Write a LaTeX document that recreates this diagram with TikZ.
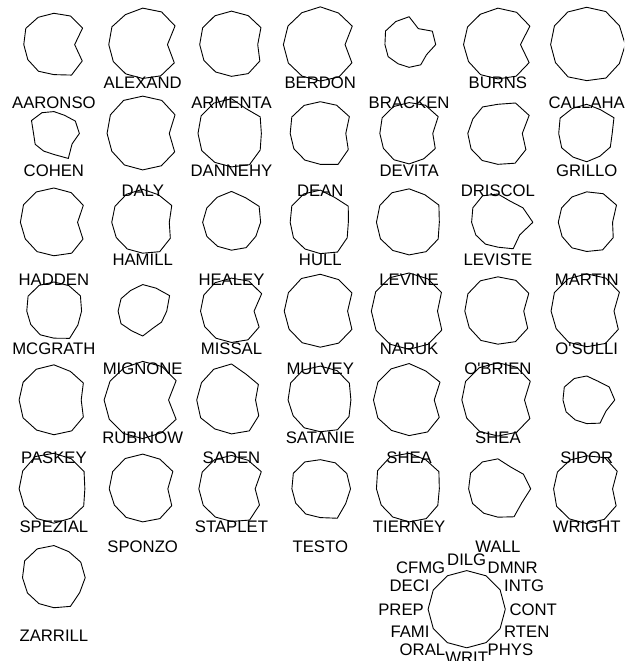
\documentclass[tikz,border=0pt]{standalone}
\usepackage{fontspec}
\setmainfont{Liberation Sans}
\usetikzlibrary{calc}

\def\colmax{{10.6,9.2,9.0,9.0,8.7,8.8,9.1,9.1,8.9,9.0,9.1,9.2}}

\begin{document}
\begin{tikzpicture}[x=1pt,y=1pt,
        starline/.style={
        draw=black, line width=0.9pt,
        line join=round},
        judgename/.style={
        inner sep=0pt, anchor=base,
        font=\fontsize{16.7}{20}\selectfont},
        keylab/.style={
        inner sep=0pt,
        font=\fontsize{16.7}{20}\selectfont},
        ]

        \path[use as bounding box, fill=white] (0,0) rectangle (624,-661);
        \clip (0,0) rectangle (624,-661);

        \foreach \nm/\lab/\vals [count=\i] in {
            aaronso/AARONSO/{5.7,7.9,7.7,7.3,7.1,7.4,7.1,7.1,7.1,7.0,8.3,7.8},
            alexand/ALEXAND/{6.8,8.9,8.8,8.5,7.8,8.1,8.0,8.0,7.8,7.9,8.5,8.7},
            armenta/ARMENTA/{7.2,8.1,7.8,7.8,7.5,7.6,7.5,7.5,7.3,7.4,7.9,7.8},
            berdon/BERDON/{6.8,8.8,8.5,8.8,8.3,8.5,8.7,8.7,8.4,8.5,8.8,8.7},
            bracken/BRACKEN/{7.3,6.4,4.3,6.5,6.0,6.2,5.7,5.7,5.1,5.3,5.5,4.8},
            burns/BURNS/{6.2,8.8,8.7,8.5,7.9,8.0,8.1,8.0,8.0,8.0,8.6,8.6},
            callaha/CALLAHA/{10.6,9.0,8.9,8.7,8.5,8.5,8.5,8.5,8.6,8.4,9.1,9.0},
            cohen/COHEN/{7.0,5.9,4.9,5.1,5.4,5.9,4.8,5.1,4.7,4.9,6.8,5.0},
            daly/DALY/{7.3,8.9,8.9,8.7,8.6,8.5,8.4,8.4,8.4,8.5,8.8,8.8},
            dannehy/DANNEHY/{8.2,7.9,6.7,8.1,7.9,8.0,7.9,8.1,7.7,7.8,8.5,7.9},
            dean/DEAN/{7.0,8.0,7.6,7.4,7.3,7.5,7.1,7.2,7.1,7.2,8.4,7.7},
            devita/DEVITA/{6.5,8.0,7.6,7.2,7.0,7.1,6.9,7.0,7.0,7.1,6.9,7.2},
            driscol/DRISCOL/{6.7,8.6,8.2,6.8,6.9,6.6,7.1,7.3,7.2,7.2,8.1,7.7},
            grillo/GRILLO/{7.0,7.5,6.4,6.8,6.5,7.0,6.6,6.8,6.3,6.6,6.2,6.5},
            hadden/HADDEN/{6.5,8.1,8.0,8.0,7.9,8.0,7.9,7.8,7.8,7.8,8.4,8.0},
            hamill/HAMILL/{7.3,8.0,7.4,7.7,7.3,7.3,7.3,7.2,7.1,7.2,8.0,7.6},
            healey/HEALEY/{8.0,7.6,6.6,7.2,6.5,6.5,6.8,6.7,6.4,6.5,6.9,6.7},
            hull/HULL/{7.7,7.7,6.7,7.5,7.4,7.5,7.1,7.3,7.1,7.3,8.1,7.4},
            levine/LEVINE/{8.3,8.2,7.4,7.8,7.7,7.7,7.7,7.8,7.5,7.6,8.0,8.0},
            leviste/LEVISTE/{9.6,6.9,5.7,6.6,6.9,6.6,6.2,6.0,5.8,5.8,7.2,6.0},
            martin/MARTIN/{7.1,8.2,7.7,7.1,6.6,6.6,6.7,6.7,6.8,6.8,7.5,7.3},
            mcgrath/MCGRATH/{7.6,7.3,6.9,6.8,6.7,6.8,6.4,6.3,6.3,6.3,7.4,6.6},
            mignone/MIGNONE/{6.6,7.4,6.2,6.2,5.4,5.7,5.8,5.9,5.2,5.8,4.7,5.2},
            missal/MISSAL/{6.2,8.3,8.1,7.7,7.4,7.3,7.3,7.3,7.2,7.3,7.8,7.6},
            mulvey/MULVEY/{7.5,8.7,8.5,8.6,8.5,8.4,8.5,8.5,8.4,8.4,8.7,8.7},
            naruk/NARUK/{7.8,8.9,8.7,8.9,8.7,8.8,8.9,9.0,8.8,8.9,9.0,9.0},
            obrien/O\textquotesingle BRIEN/{7.1,8.5,8.3,8.0,7.9,7.9,7.8,7.8,7.8,7.7,8.3,8.2},
            osulli/O\textquotesingle SULLI/{7.5,9.0,8.9,8.7,8.4,8.5,8.4,8.3,8.3,8.3,8.8,8.7},
            paskey/PASKEY/{7.5,8.1,7.7,8.2,8.0,8.1,8.2,8.4,8.0,8.1,8.4,8.1},
            rubinow/RUBINOW/{7.1,9.2,9.0,9.0,8.4,8.6,9.1,9.1,8.9,9.0,8.9,9.2},
            saden/SADEN/{6.6,7.4,6.9,8.4,8.0,7.9,8.2,8.4,7.7,7.9,8.4,7.5},
            satanie/SATANIE/{8.4,8.0,7.9,7.9,7.8,7.8,7.6,7.4,7.4,7.4,8.1,7.9},
            sheaa/SHEA/{6.9,8.5,7.8,8.5,8.1,8.2,8.4,8.5,8.1,8.3,8.7,8.3},
            sheab/SHEA/{7.3,8.9,8.8,8.7,8.4,8.5,8.5,8.5,8.4,8.4,8.8,8.8},
            sidor/SIDOR/{7.7,6.2,5.1,5.6,5.6,5.9,5.6,5.6,5.3,5.5,6.3,5.3},
            spezial/SPEZIAL/{8.5,8.3,8.1,8.3,8.4,8.2,8.2,8.1,7.9,8.0,8.0,8.2},
            sponzo/SPONZO/{6.9,8.3,8.0,8.1,7.9,7.9,7.9,7.7,7.6,7.7,8.1,8.0},
            staplet/STAPLET/{6.5,8.2,7.7,7.8,7.6,7.7,7.7,7.7,7.5,7.6,8.5,7.7},
            testo/TESTO/{8.3,7.3,7.0,6.8,7.0,7.1,6.7,6.7,6.7,6.7,8.0,7.0},
            tierney/TIERNEY/{8.3,8.2,7.8,8.3,8.4,8.3,7.7,7.6,7.5,7.7,8.1,7.9},
            wall/WALL/{9.0,7.0,5.9,7.0,7.0,7.2,6.9,6.9,6.5,6.6,7.6,6.6},
            wright/WRIGHT/{7.1,8.4,8.4,7.7,7.5,7.7,7.8,8.2,8.0,8.1,8.3,8.1},
            zarrill/ZARRILL/{8.6,7.4,7.0,7.5,7.5,7.7,7.4,7.2,6.9,7.0,7.8,7.1}}{
          \pgfmathtruncatemacro\col{mod(\i-1,7)}
          \pgfmathtruncatemacro\row{(\i-1)/7}
          \pgfmathsetmacro\off{mod(\i,2)==1 ? 63.5 : 43.5}
          \coordinate (\nm) at ({53.9+88.8*\col},{-44.6-88.85*\row});
          \foreach \v [count=\k from 0] in \vals {
            \pgfmathsetmacro\rr{\v/\colmax[\k]*38.6}
            \coordinate (\nm-\k) at ([shift={(\k*30:\rr)}]\nm);
          }
          \draw[starline] (\nm-0) \foreach \k in {1,...,11}{-- (\nm-\k)} -- cycle;
          \node[judgename] (\nm-lab) at ([yshift=-\off]\nm) {\lab};
        }

        \coordinate (key) at (466.7,-609.2);
        \draw[starline] ([shift={(0:38.6)}]key)
          \foreach \a in {30,60,...,330}{-- ([shift={(\a:38.6)}]key)} -- cycle;

        \node[keylab, anchor=base west] (k-cont) at ([shift={(42.6,-5.8)}]key) {CONT};
        \node[keylab, anchor=base west] (k-intg) at ([shift={(37.3,17.5)}]key) {INTG};
        \node[keylab, anchor=base west] (k-dmnr) at ([shift={(20.8,35.9)}]key) {DMNR};
        \node[keylab, anchor=base] (k-dilg) at ([shift={(0,44.2)}]key) {DILG};
        \node[keylab, anchor=base east] (k-cfmg) at ([shift={(-21.3,35.9)}]key) {CFMG};
        \node[keylab, anchor=base east] (k-deci) at ([shift={(-37,17.5)}]key) {DECI};
        \node[keylab, anchor=base east] (k-prep) at ([shift={(-42.7,-5.8)}]key) {PREP};
        \node[keylab, anchor=base east] (k-fami) at ([shift={(-37,-28.1)}]key) {FAMI};
        \node[keylab, anchor=base east] (k-oral) at ([shift={(-21.3,-45.8)}]key) {ORAL};
        \node[keylab, anchor=base] (k-writ) at ([shift={(0,-54.5)}]key) {WRIT};
        \node[keylab, anchor=base west] (k-phys) at ([shift={(20.8,-45.8)}]key) {PHYS};
        \node[keylab, anchor=base west] (k-rten) at ([shift={(37.3,-28.1)}]key) {RTEN};
\end{tikzpicture}
\end{document}
